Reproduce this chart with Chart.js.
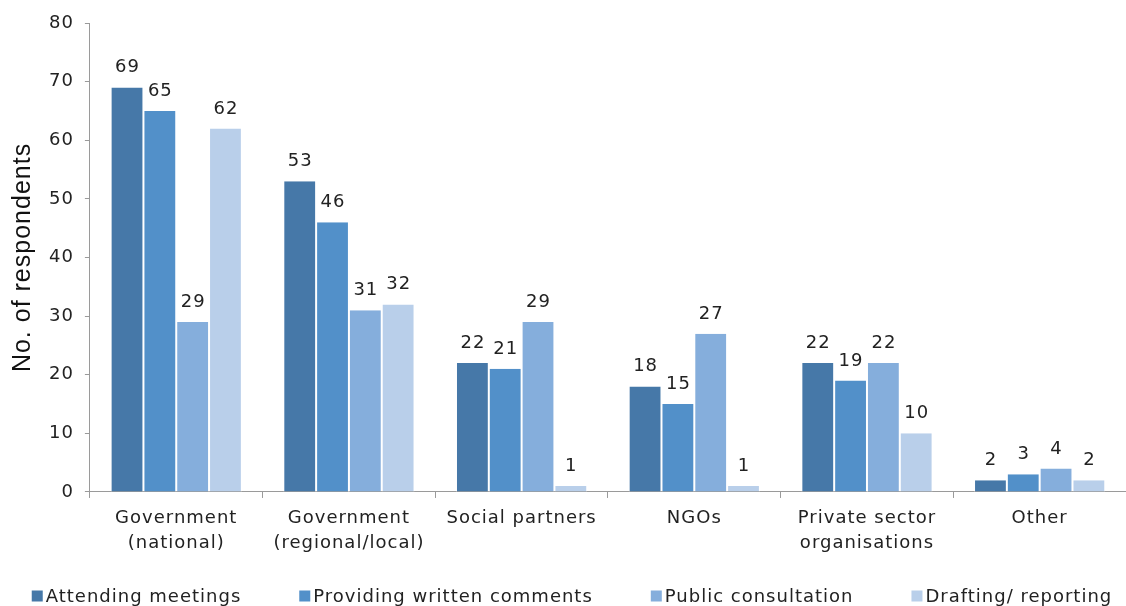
<!DOCTYPE html>
<html>
<head>
<meta charset="utf-8">
<script src="https://cdn.jsdelivr.net/npm/chart.js@4/dist/chart.umd.min.js"></script>
<style>
  html, body { margin: 0; padding: 0; background: #fff; }
  #wrap { width: 1126px; height: 606px; }
</style>
</head>
<body>
<div id="wrap"><canvas id="respondentsChart"></canvas></div>
<script>
var categories = [
  ['Government', '(national)'],
  ['Government', '(regional/local)'],
  'Social partners',
  'NGOs',
  ['Private sector', 'organisations'],
  'Other'
];
var attendingMeetings = [69, 53, 22, 18, 22, 2];
var writtenComments = [65, 46, 21, 15, 19, 3];
var publicConsultation = [29, 31, 29, 27, 22, 4];
var draftingReporting = [62, 32, 1, 1, 10, 2];
var yTicks = [0, 10, 20, 30, 40, 50, 60, 70, 80];

var font = 'DejaVu Sans';
var axisGrey = '#9a9a9a';
var textColour = '#222';

// the canvas state is reset on resize, so the spacing is set again before layout and draw
var spacedText = {
  id: 'spacedText',
  beforeUpdate: function (chart) { chart.ctx.letterSpacing = '1px'; },
  beforeDraw: function (chart) { chart.ctx.letterSpacing = '1px'; }
};

// writes each bar's value just above it
var valueLabels = {
  id: 'valueLabels',
  afterDatasetsDraw: function (chart) {
    var ctx = chart.ctx;
    ctx.save();
    ctx.font = '18px "' + font + '"';
    ctx.fillStyle = textColour;
    ctx.textAlign = 'center';
    ctx.textBaseline = 'alphabetic';
    chart.data.datasets.forEach(function (ds, i) {
      var meta = chart.getDatasetMeta(i);
      meta.data.forEach(function (bar, j) {
        ctx.fillText(ds.data[j], bar.x + 0.5, bar.y - 15);
      });
    });
    ctx.restore();
  }
};

// single-row legend under the axis: small square, tight gap, wide spacing between items
var bottomLegend = {
  id: 'bottomLegend',
  afterDraw: function (chart) {
    var ctx = chart.ctx;
    var box = 11, boxGap = 3, itemGap = 58, centreX = 572, midY = 596;
    ctx.save();
    ctx.letterSpacing = '1px';
    ctx.font = '18px "' + font + '"';
    ctx.textBaseline = 'middle';
    ctx.textAlign = 'left';
    var items = chart.data.datasets.map(function (ds) {
      return { text: ds.label, colour: ds.backgroundColor, w: ctx.measureText(ds.label).width };
    });
    var total = items.reduce(function (s, it) { return s + box + boxGap + it.w; }, 0) + itemGap * (items.length - 1);
    var x = centreX - total / 2;
    items.forEach(function (it) {
      ctx.fillStyle = it.colour;
      ctx.fillRect(x, midY - box / 2, box, box);
      x += box + boxGap;
      ctx.fillStyle = textColour;
      ctx.fillText(it.text, x, midY + 1);
      x += it.w + itemGap;
    });
    ctx.restore();
  }
};

var ctx = document.getElementById('respondentsChart').getContext('2d');
var chart = new Chart(ctx, {
  type: 'bar',
  data: {
    labels: categories,
    datasets: [
      { label: 'Attending meetings', data: attendingMeetings, backgroundColor: '#4678a8' },
      { label: 'Providing written comments', data: writtenComments, backgroundColor: '#5290c9' },
      { label: 'Public consultation', data: publicConsultation, backgroundColor: '#85aedc' },
      { label: 'Drafting/ reporting', data: draftingReporting, backgroundColor: '#b9cfea' }
    ]
  },
  options: {
    responsive: true,
    maintainAspectRatio: false,
    animation: false,
    layout: { padding: { top: 23, right: 0, left: 8, bottom: 42 } },
    datasets: {
      bar: {
        categoryPercentage: 0.76,
        barPercentage: 1,
        borderColor: '#ffffff',
        borderWidth: { left: 1, right: 1 }
      }
    },
    plugins: {
      legend: { display: false },
      tooltip: { enabled: false }
    },
    scales: {
      x: {
        grid: {
          display: true,
          offset: true,
          drawOnChartArea: false,
          drawTicks: true,
          tickLength: 6,
          color: axisGrey
        },
        border: { color: axisGrey },
        ticks: {
          font: { family: font, size: 18, lineHeight: 1.39 },
          color: textColour,
          maxRotation: 0,
          padding: 8
        }
      },
      y: {
        min: 0,
        max: 80,
        afterBuildTicks: function (axis) {
          axis.ticks = yTicks.map(function (v) { return { value: v }; });
        },
        grid: {
          drawOnChartArea: false,
          drawTicks: true,
          tickLength: 5,
          color: axisGrey
        },
        border: { color: axisGrey },
        ticks: {
          font: { family: font, size: 18 },
          color: textColour,
          padding: 11
        },
        title: {
          display: true,
          text: 'No. of respondents',
          font: { family: 'Liberation Sans', size: 25 },
          color: '#111',
          padding: { top: 0, bottom: 0 }
        }
      }
    }
  },
  plugins: [spacedText, valueLabels, bottomLegend]
});
</script>
</body>
</html>
